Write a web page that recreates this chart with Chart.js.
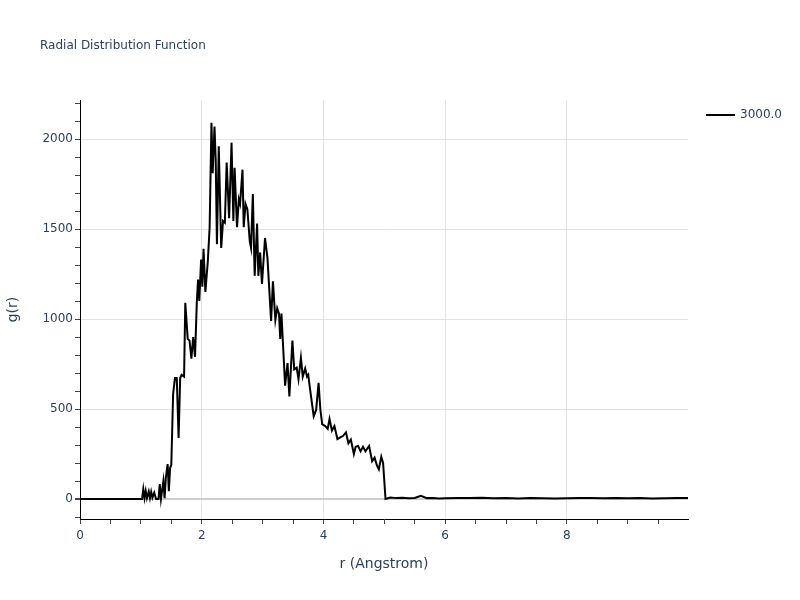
<!DOCTYPE html>
<html>
<head>
<meta charset="utf-8">
<script src="https://cdn.jsdelivr.net/npm/chart.js@4.4.1/dist/chart.umd.min.js"></script>
<style>
html,body{margin:0;padding:0;background:#fff;}
#wrap{width:800px;height:600px;}
</style>
</head>
<body>
<div id="wrap"><canvas id="c" width="800" height="600"></canvas></div>
<script>
const chartTitle = "Radial Distribution Function";
const seriesName = "3000.0";
const xTitle = "r (Angstrom)";
const yTitle = "g(r)";

const rValues = [0,1.00,1.02,1.04,1.06,1.08,1.10,1.13,1.15,1.17,1.19,1.22,1.25,1.29,1.31,1.33,1.37,1.39,1.41,1.44,1.46,1.48,1.50,1.53,1.56,1.59,1.62,1.646,1.67,1.71,1.73,1.77,1.80,1.83,1.86,1.89,1.92,1.94,1.96,1.99,2.01,2.03,2.06,2.10,2.13,2.16,2.18,2.21,2.23,2.25,2.28,2.32,2.35,2.38,2.41,2.45,2.49,2.52,2.54,2.58,2.61,2.63,2.67,2.69,2.72,2.75,2.79,2.81,2.84,2.87,2.91,2.93,2.96,2.99,3.04,3.08,3.14,3.17,3.21,3.24,3.27,3.29,3.31,3.37,3.41,3.44,3.49,3.52,3.56,3.59,3.63,3.66,3.70,3.73,3.75,3.78,3.84,3.88,3.92,3.95,3.98,4.03,4.07,4.10,4.14,4.18,4.23,4.29,4.32,4.37,4.41,4.45,4.50,4.53,4.57,4.61,4.65,4.69,4.75,4.80,4.84,4.88,4.91,4.95,4.98,5.02,5.1,5.2,5.3,5.4,5.5,5.6,5.7,5.8,5.9,6.0,6.2,6.4,6.6,6.8,7.0,7.2,7.4,7.6,7.8,8.0,8.2,8.4,8.6,8.8,9.0,9.2,9.4,9.6,9.8,9.99];
const gValues = [0,0,0,55,5,45,5,42,5,40,8,35,0,0,83,0,100,5,117,194,44,172,190,583,672,672,339,672,690,680,1090,890,880,780,900,790,1100,1220,1100,1330,1180,1390,1150,1320,1510,2090,1810,2070,1880,1415,1960,1395,1545,1535,1870,1560,1980,1545,1840,1510,1665,1640,1830,1510,1640,1610,1430,1395,1695,1240,1530,1240,1370,1195,1450,1340,990,1210,995,1060,1030,890,1030,630,755,570,880,720,730,665,785,680,725,680,690,610,460,495,645,495,415,405,390,445,380,405,333,345,350,370,310,330,250,290,295,265,290,265,295,210,230,185,165,235,200,0,8,5,7,4,6,18,5,6,3,4,6,5,7,4,5,3,5,4,3,4,6,5,4,5,4,5,3,4,5,6];

const xTickValues = [0,0.5,1,1.5,2,2.5,3,3.5,4,4.5,5,5.5,6,6.5,7,7.5,8,8.5,9,9.5];
const yTickValues = [-100,0,100,200,300,400,500,600,700,800,900,1000,1100,1200,1300,1400,1500,1600,1700,1800,1900,2000,2100,2200];
const xLabelStep = 2;
const yLabelStep = 500;

const textColor = '#2a3f5f';
const gridColor = '#e3e3e3';
const zeroColor = '#cfcfcf';
const fontFam = '"DejaVu Sans", Verdana, sans-serif';

const overlay = {
  id: 'overlay',
  afterDraw(chart) {
    const ctx = chart.ctx;
    ctx.save();
    ctx.fillStyle = textColor;
    ctx.font = '12px ' + fontFam;
    ctx.textAlign = 'left';
    ctx.textBaseline = 'middle';
    ctx.fillText(chartTitle, 40, 46);
    // legend
    ctx.strokeStyle = '#000';
    ctx.lineWidth = 2;
    ctx.beginPath();
    ctx.moveTo(706, 115);
    ctx.lineTo(735, 115);
    ctx.stroke();
    ctx.fillText(seriesName, 740, 115);
    ctx.restore();
  }
};

new Chart(document.getElementById('c'), {
  type: 'line',
  data: {
    datasets: [{
      label: seriesName,
      data: rValues.map((r, i) => ({x: r, y: gValues[i]})),
      borderColor: '#000',
      borderWidth: 2,
      pointRadius: 0,
      tension: 0,
      fill: false
    }]
  },
  options: {
    responsive: false,
    animation: false,
    layout: {padding: {left: 0, top: 100, right: 112, bottom: 0}},
    plugins: {legend: {display: false}, title: {display: false}, tooltip: {enabled: false}},
    scales: {
      x: {
        type: 'linear', min: 0, max: 9.99,
        afterBuildTicks: (s) => { s.ticks = xTickValues.map(v => ({value: v})); },
        afterFit: (s) => { s.height = 81; },
        border: {display: true, color: '#000', width: 1},
        grid: {
          drawTicks: true, tickLength: 5,
          color: (c) => (c.tick && c.tick.value > 0 && c.tick.value % xLabelStep === 0) ? gridColor : 'rgba(0,0,0,0)',
          tickColor: '#444'
        },
        ticks: {
          autoSkip: false, maxRotation: 0, padding: 5,
          color: textColor, font: {family: fontFam, size: 12},
          callback: (v) => (v % xLabelStep === 0 ? String(v) : '')
        },
        title: {display: true, text: xTitle, color: textColor, font: {family: fontFam, size: 14}, padding: {top: 0, bottom: 27}}
      },
      y: {
        type: 'linear', min: -111, max: 2217,
        afterBuildTicks: (s) => { s.ticks = yTickValues.map(v => ({value: v})); },
        afterFit: (s) => { s.width = 80; },
        border: {display: true, color: '#000', width: 1},
        grid: {
          drawTicks: true, tickLength: 5,
          color: (c) => {
            if (!c.tick) return 'rgba(0,0,0,0)';
            const v = c.tick.value;
            if (v === 0) return zeroColor;
            return v % yLabelStep === 0 ? gridColor : 'rgba(0,0,0,0)';
          },
          lineWidth: (c) => (c.tick && c.tick.value === 0 ? 2 : 1),
          tickColor: '#444'
        },
        ticks: {
          autoSkip: false, padding: 2,
          color: textColor, font: {family: fontFam, size: 12},
          callback: (v) => (v % yLabelStep === 0 ? String(v) : '')
        },
        title: {display: true, text: yTitle, color: textColor, font: {family: fontFam, size: 14}, padding: {top: 5, bottom: 0}}
      }
    }
  },
  plugins: [overlay]
});
</script>
</body>
</html>
